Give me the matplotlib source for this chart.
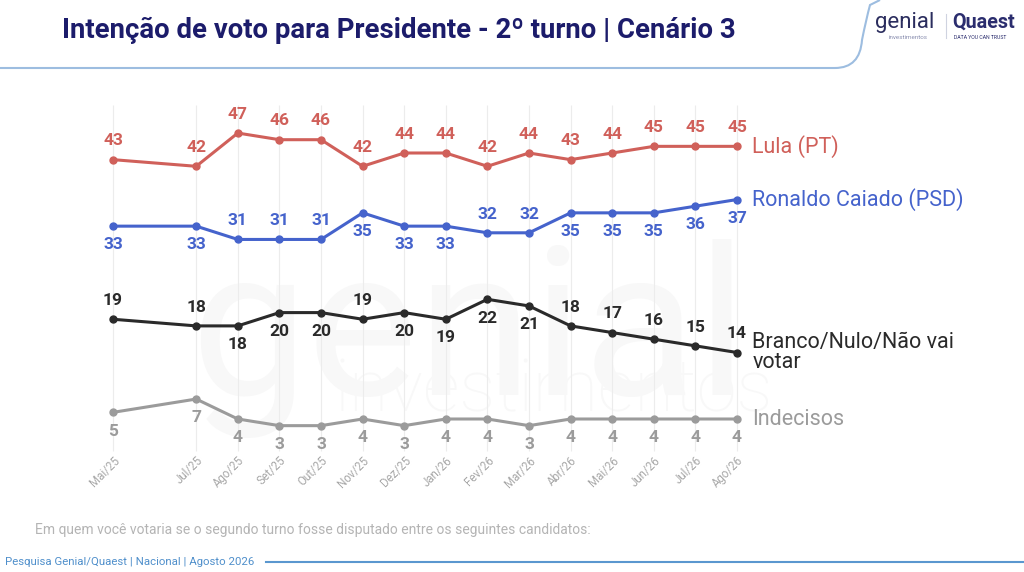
import matplotlib
matplotlib.use("Agg")
import matplotlib.pyplot as plt
from matplotlib.path import Path
from matplotlib.patches import PathPatch
from matplotlib.lines import Line2D

plt.rcParams['font.family'] = ['Roboto', 'DejaVu Sans']

# data
months = ['Mai/25', 'Jul/25', 'Ago/25', 'Set/25', 'Out/25', 'Nov/25', 'Dez/25', 'Jan/26',
          'Fev/26', 'Mar/26', 'Abr/26', 'Mai/26', 'Jun/26', 'Jul/26', 'Ago/26']
month_idx = [0, 2, 3, 4, 5, 6, 7, 8, 9, 10, 11, 12, 13, 14, 15]
lula = [43, 42, 47, 46, 46, 42, 44, 44, 42, 44, 43, 44, 45, 45, 45]
caiado = [33, 33, 31, 31, 31, 35, 33, 33, 32, 32, 35, 35, 35, 36, 37]
branco = [19, 18, 18, 20, 20, 19, 20, 19, 22, 21, 18, 17, 16, 15, 14]
indecisos = [5, 7, 4, 3, 3, 4, 3, 4, 4, 3, 4, 4, 4, 4, 4]

# label side: 1 above, -1 below
lula_side = [1] * 15
caiado_side = [-1, -1, 1, 1, 1, -1, -1, -1, 1, 1, -1, -1, -1, -1, -1]
branco_side = [1, 1, -1, -1, -1, 1, -1, -1, -1, -1, 1, 1, 1, 1, 1]
indecisos_side = [-1] * 15

series = [
    ('Lula (PT)', lula, lula_side, '#d0605a'),
    ('Ronaldo Caiado (PSD)', caiado, caiado_side, '#4563cc'),
    ('Branco/Nulo/Não vai\nvotar', branco, branco_side, '#2a2a2a'),
    ('Indecisos', indecisos, indecisos_side, '#9b9b9b'),
]

W, H = 1024, 572
fig = plt.figure(figsize=(W / 100, H / 100), dpi=100)

ax = fig.add_axes([80 / W, 1 - 445.6 / H, 690 / W, 345.6 / H])
ax.patch.set_alpha(0)
ax.set_xlim((80 - 113) / 41.6, (770 - 113) / 41.6)
ax.set_ylim(0, 345.6 / 6.65)

# watermark behind everything
ax.text(190 / W, 1 - 395 / H, 'genial', fontsize=150, color='#f8f8f8',
        ha='left', va='baseline', zorder=0, transform=fig.transFigure)
ax.text(335 / W, 1 - 412 / H, 'investimentos', fontsize=52, color='#f8f8f8',
        ha='left', va='baseline', zorder=0, fontweight='light', transform=fig.transFigure)

ax.vlines(month_idx, -0.8, 51.2, color='#ececec', lw=0.8, zorder=1, clip_on=False)

for name, vals, side, col in series:
    ax.plot(month_idx, vals, color=col, lw=2.2, marker='o', markersize=5, zorder=3)
    for x, v, s in zip(month_idx, vals, side):
        ax.annotate(str(v), (x, v), xytext=(0, 13.5 * s), textcoords='offset points',
                    ha='center', va='center', color=col, fontsize=12.5, fontweight='bold',
                    zorder=4)
    ax.annotate(name, (month_idx[-1], vals[-1]), xytext=(11, 0), textcoords='offset points',
                ha='left', va='center', color=col, fontsize=15.5, linespacing=0.9)

ax.set_xticks(month_idx)
ax.set_xticklabels(months, rotation=45, ha='right', rotation_mode='anchor',
                   fontsize=8.3, color='#a8a8a8')
ax.tick_params(axis='x', length=0, pad=6)
ax.set_yticks([])
for sp in ax.spines.values():
    sp.set_visible(False)

# header
fig.text(62 / W, 1 - 30 / H, 'Intenção de voto para Presidente - 2º turno | Cenário 3',
         fontsize=19.8, fontweight='bold', color='#1c1c6b', ha='left', va='center')

verts = [(0, 1 - 68 / H), (835 / W, 1 - 68 / H), (860 / W, 1 - 68 / H),
         (862 / W, 1 - 40 / H), (866 / W, 1 - 20 / H), (870 / W, 1 - 5 / H), (880 / W, 1.0)]
codes = [Path.MOVETO, Path.LINETO, Path.CURVE3, Path.CURVE3, Path.CURVE3, Path.CURVE3, Path.LINETO]
fig.patches.append(PathPatch(Path(verts, codes), transform=fig.transFigure, fill=False,
                             edgecolor='#9dbde0', lw=1.5))

fig.text(875 / W, 1 - 28 / H, 'genial', fontsize=16, color='#2b2d5e', ha='left', va='baseline')
fig.text(889 / W, 1 - 39 / H, 'investimentos', fontsize=4.5, color='#8a8fb0', ha='left',
         va='baseline')
fig.lines.append(Line2D([946 / W, 946 / W], [1 - 14 / H, 1 - 38 / H],
                        transform=fig.transFigure, color='#cfd3e0', lw=0.8))
fig.text(952 / W, 1 - 28 / H, 'Quaest', fontsize=14.2, fontweight='bold', color='#2b2d6e',
         ha='left', va='baseline')
fig.text(954 / W, 1 - 39 / H, 'DATA YOU CAN TRUST', fontsize=3.7, color='#2b2d6e',
         ha='left', va='baseline')

# footer
fig.text(35 / W, 1 - 530 / H,
         'Em quem você votaria se o segundo turno fosse disputado entre os seguintes candidatos:',
         fontsize=10, color='#b4b4b4', ha='left', va='center')
fig.text(5 / W, 1 - 562 / H, 'Pesquisa Genial/Quaest | Nacional | Agosto 2026', fontsize=8.2,
         color='#4f8fcb', ha='left', va='center')
fig.lines.append(Line2D([266 / W, 1.0], [1 - 562 / H, 1 - 562 / H],
                        transform=fig.transFigure, color='#5a97cf', lw=1.5))

fig.savefig('out.png', dpi=100)
